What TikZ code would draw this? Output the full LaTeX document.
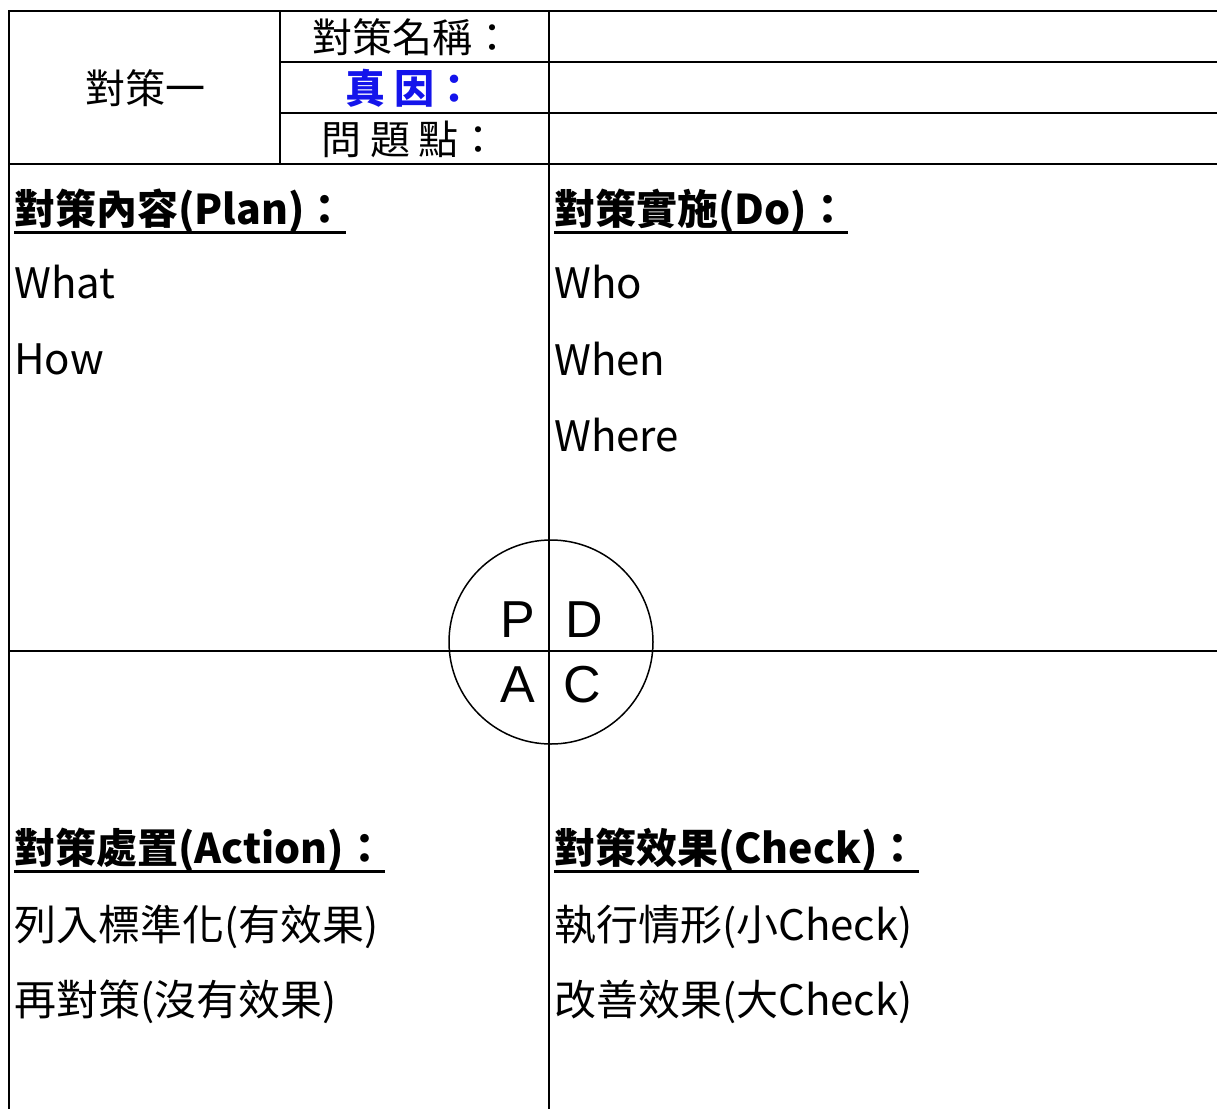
\documentclass[tikz,border=0pt]{standalone}
\usepackage{fontspec}
\setmainfont{Noto Sans CJK TC}
\newfontfamily\pdcafont{Liberation Sans}
\definecolor{zblue}{RGB}{20,20,235}
\begin{document}
\begin{tikzpicture}[x=1pt,y=-1pt,
  grid/.style={line width=2.8pt,line cap=rect},
  cell/.style={inner sep=0pt,font=\fontsize{40}{40}\selectfont},
  head/.style={inner sep=0pt,anchor=base west,font=\fontsize{41}{41}\selectfont\bfseries},
  item/.style={inner sep=0pt,anchor=base west,font=\fontsize{42}{42}\selectfont},
  letter/.style={inner sep=0pt,anchor=base,font=\fontsize{52}{52}\pdcafont},
  uline/.style={line width=3pt}]
\useasboundingbox (0,0) rectangle (1217,1108);
% grid
\coordinate (tl) at (9,11);
\coordinate (tr) at (1217,11);
\draw[grid] (9,1108) -- (tl) -- (tr);
\draw[grid] (280,62) -- (1217,62);
\draw[grid] (280,113) -- (1217,113);
\draw[grid] (9,164) -- (1217,164);
\draw[grid] (280,11) -- (280,164);
\draw[grid] (549,11) -- (549,1108);
\draw[grid] (9,651) -- (1217,651);
% circle
\draw[line width=1.5pt] (551,642) circle[radius=102];
% header texts
\node[cell] (c1) at (145,88) {對策一};
\node[cell] (n1) at (412,37) {對策名稱：};
\node[cell,text=zblue,font=\fontsize{40}{40}\selectfont\bfseries] (n2) at (410,88) {真 因：};
\node[cell] (n3) at (410,139) {問 題 點：};
% Plan
\node[head] (hp) at (14,224) {對策內容(Plan)：};
\draw[uline] ([yshift=-8pt]hp.base west) -- ([yshift=-8pt]hp.base east);
\node[item] (what) at (14,298) {What};
\node[item] (how) at (14,374) {How};
% Do
\node[head] (hd) at (554,224) {對策實施(Do)：};
\draw[uline] ([yshift=-8pt]hd.base west) -- ([yshift=-8pt]hd.base east);
\node[item] (who) at (554,298) {Who};
\node[item] (when) at (554,375) {When};
\node[item] (where) at (554,451) {Where};
% Action
\node[head] (ha) at (14,863) {對策處置(Action)：};
\draw[uline] ([yshift=-8pt]ha.base west) -- ([yshift=-8pt]ha.base east);
\node[item] (a1) at (14,940) {列入標準化(有效果)};
\node[item] (a2) at (14,1015) {再對策(沒有效果)};
% Check
\node[head] (hc) at (554,863) {對策效果(Check)：};
\draw[uline] ([yshift=-8pt]hc.base west) -- ([yshift=-8pt]hc.base east);
\node[item] (k1) at (554,940) {執行情形(小Check)};
\node[item] (k2) at (554,1015) {改善效果(大Check)};
% PDCA
\node[letter] (P) at (518,637) {P};
\node[letter] (D) at (584,637) {D};
\node[letter] (A) at (518,702) {A};
\node[letter] (C) at (582,702) {C};
\end{tikzpicture}
\end{document}
